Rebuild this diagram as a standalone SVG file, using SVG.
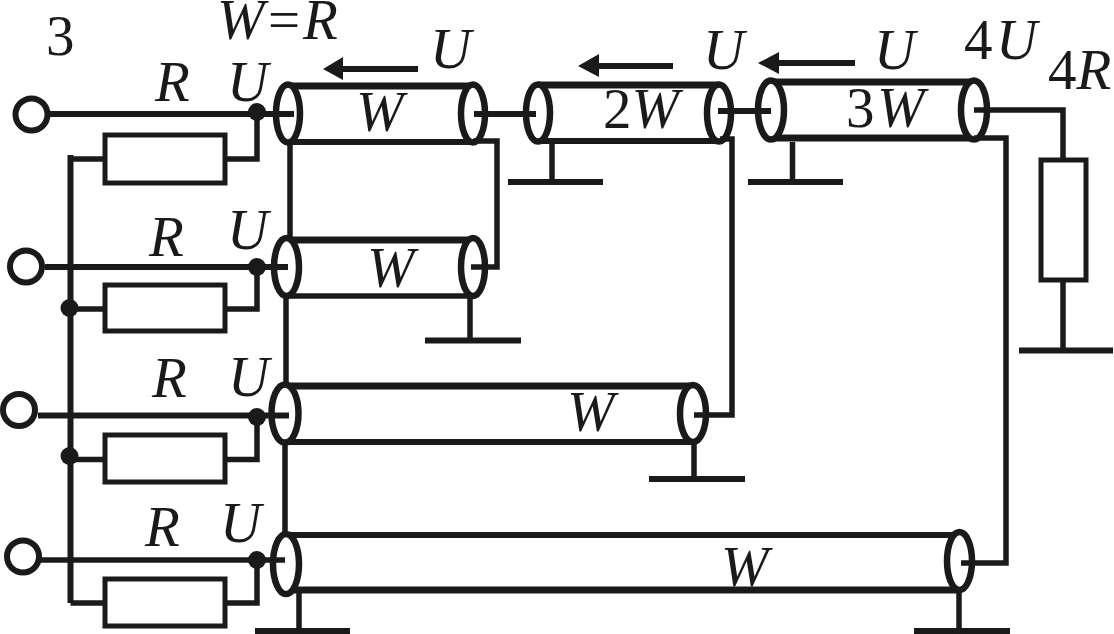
<svg xmlns="http://www.w3.org/2000/svg" width="1114" height="634" viewBox="0 0 1114 634">
<style>
rect.bg{fill:#fff}
.w{fill:none;stroke:#1a1a1a;stroke-width:5.5}
.t{fill:none;stroke:#1a1a1a;stroke-width:6}
.thick{fill:none;stroke:#1a1a1a;stroke-width:7}
.end{fill:#fff;stroke:#1a1a1a;stroke-width:6.500}
.term{fill:#fff;stroke:#1a1a1a;stroke-width:6}
.res{fill:#fff;stroke:#1a1a1a;stroke-width:5}
.dot,.head{fill:#1a1a1a}
text{font-family:"Liberation Serif","Times New Roman",serif;font-size:57px;font-style:italic;fill:#1a1a1a}
.u{font-style:normal}
</style>
<rect class="bg" width="1114" height="634"/>
<g id="cable-1">
<path class="thick" d="M288 86H473"/><path class="t" d="M288 142H473"/>
<ellipse class="end" cx="288" cy="113.500" rx="12" ry="29"/><ellipse class="end" cx="473" cy="113.500" rx="12" ry="29"/>
</g>
<g id="cable-2">
<path class="thick" d="M287 240H473"/><path class="w" d="M287 296H473"/>
<ellipse class="end" cx="286.500" cy="267" rx="12.500" ry="29"/><ellipse class="end" cx="473" cy="267" rx="12" ry="29"/>
</g>
<g id="cable-3">
<path class="thick" d="M285 386H693"/><path class="t" d="M285 442H693"/>
<ellipse class="end" cx="285" cy="413.500" rx="13.500" ry="29"/><ellipse class="end" cx="693" cy="413.500" rx="13" ry="28.500"/>
</g>
<g id="cable-4">
<path class="t" d="M286 535H959"/><path class="thick" d="M286 590H959"/>
<ellipse class="end" cx="286" cy="564" rx="13" ry="30"/><ellipse class="end" cx="959.500" cy="561" rx="12.500" ry="29"/>
</g>
<g id="cable-2w">
<path class="thick" d="M538 85H719"/><path class="t" d="M538 141H719"/>
<ellipse class="end" cx="538" cy="113" rx="12" ry="28.500"/><ellipse class="end" cx="719" cy="113" rx="12" ry="28.500"/>
</g>
<g id="cable-3w">
<path class="thick" d="M771 82H974"/><path class="thick" d="M771 138H974"/>
<ellipse class="end" cx="771" cy="110" rx="13" ry="29.500"/><ellipse class="end" cx="974" cy="110" rx="13" ry="29.500"/>
</g>
<g id="connectors">
<path class="t" d="M50 114H294M474 114H536"/>
<path class="t" d="M45 267H288M38 415.500H289"/>
<path class="w" d="M40 560H285"/>
<path class="t" d="M70.500 155V603"/>
<path class="w" d="M70 159H105M225 159H257V114M70 309H105M225 309H257V267M70 459.500H105M225 459.500H257V417M70.500 603H105M225 603H257V560"/>
<path class="w" d="M290 143V238M286 298V384M285 445V534"/>
<path class="w" d="M473 141H497V267H471M720 139H732V415H694M974 138H1006V563H961"/>
<path class="t" d="M718 111H771"/>
<path class="w" d="M974 110H1063V160M1063 280V350"/>
<path class="w" d="M552 143V182M792.500 142V182M470 296V340M694 444V479M299 590V631M959 590V631"/>
<path class="t" d="M508 182H603M748 182H843M425 340.500H521M649 479H745M1019 350.500H1113M255 631H350M914 631H1010"/>
<path class="t" d="M340 69H418M598 66H673M778 63H855"/>
<path class="head" d="M323 69L343 57V80ZM578 66L599 54V77ZM758 63L779 52V74Z"/>
</g>
<g id="terminal-1"><circle class="term" cx="31.500" cy="114.500" r="16"/></g>
<g id="terminal-2"><circle class="term" cx="26" cy="266.500" r="16"/></g>
<g id="terminal-3"><circle class="term" cx="19" cy="410" r="16"/></g>
<g id="terminal-4"><circle class="term" cx="23" cy="556.500" r="16"/></g>
<g id="resistor-1"><rect class="res" x="105" y="135" width="120" height="48"/></g>
<g id="resistor-2"><rect class="res" x="105" y="285" width="120" height="46"/></g>
<g id="resistor-3"><rect class="res" x="105" y="435" width="120" height="47"/></g>
<g id="resistor-4"><rect class="res" x="105" y="579" width="120" height="47"/></g>
<g id="resistor-load"><rect class="res" x="1041" y="160" width="45" height="120"/></g>
<g id="junctions">
<circle class="dot" cx="257" cy="112" r="9"/><circle class="dot" cx="257" cy="267" r="9"/><circle class="dot" cx="257" cy="417" r="9"/><circle class="dot" cx="257" cy="560" r="9"/>
<circle class="dot" cx="69.500" cy="308" r="9"/><circle class="dot" cx="69.500" cy="456" r="9"/>
</g>
<g id="labels">
<text class="u" x="46" y="55">3</text>
<text y="39"><tspan x="217">W</tspan><tspan class="u" x="268">=</tspan><tspan x="303">R</tspan></text>
<text x="155" y="100.500">R</text><text x="227" y="101">U</text>
<text x="430" y="68">U</text><text x="356" y="131">W</text>
<text x="149" y="255.500">R</text><text x="227" y="249">U</text><text x="367" y="287">W</text>
<text x="152" y="397">R</text><text x="228" y="396">U</text><text x="567" y="431">W</text>
<text x="145" y="546">R</text><text x="220" y="541.500">U</text><text x="721" y="586">W</text>
<text x="703" y="69">U</text><text x="874" y="69">U</text>
<text x="603" y="128"><tspan class="u">2</tspan>W</text>
<text x="846" y="127"><tspan class="u">3</tspan><tspan x="877">W</tspan></text>
<text x="964" y="59"><tspan class="u">4</tspan><tspan x="996">U</tspan></text>
<text x="1048" y="89"><tspan class="u">4</tspan>R</text>
</g>
</svg>
